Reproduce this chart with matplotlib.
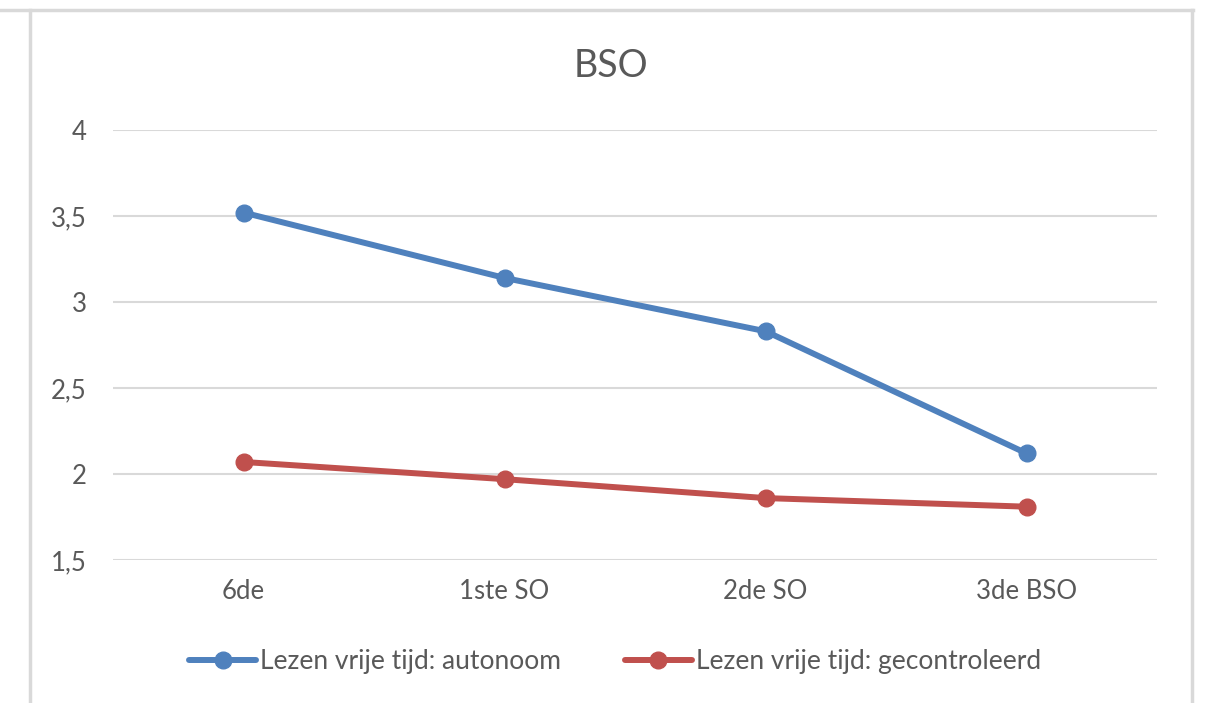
import matplotlib.pyplot as plt
from matplotlib.lines import Line2D
from matplotlib.ticker import FuncFormatter

categories = ["6de", "1ste SO", "2de SO", "3de BSO"]
autonoom = [3.52, 3.14, 2.83, 2.12]
gecontroleerd = [2.07, 1.97, 1.86, 1.81]
series_names = ["Lezen vrije tijd: autonoom", "Lezen vrije tijd: gecontroleerd"]
y_ticks = [1.5, 2, 2.5, 3, 3.5, 4]

plt.rcParams['font.family'] = ['Lato', 'DejaVu Sans']

W, H = 1207, 703
fig = plt.figure(figsize=(W / 100, H / 100), dpi=100)
ax = fig.add_axes([113 / W, 1 - 560 / H, 1044 / W, 430 / H])

x = range(len(categories))
ax.plot(x, autonoom, color="#4f81bd", lw=4.3, marker="o", ms=12,
        solid_capstyle="round", label=series_names[0], zorder=3)
ax.plot(x, gecontroleerd, color="#c0504d", lw=4.3, marker="o", ms=12,
        solid_capstyle="round", label=series_names[1], zorder=3)

ax.set_xlim(-0.5, len(categories) - 0.5)
ax.set_ylim(1.5, 4)
ax.set_yticks(y_ticks)
ax.yaxis.set_major_formatter(FuncFormatter(lambda v, p: f"{v:g}".replace(".", ",")))
ax.set_xticks(list(x))
ax.set_xticklabels(categories)
ax.grid(axis="y", color="#d9d9d9", lw=1.5)
ax.set_axisbelow(True)
for s in ax.spines.values():
    s.set_visible(False)
ax.tick_params(length=0, labelsize=18.5, colors="#595959", pad=14)
ax.tick_params(axis="y", pad=19)

fig.text(611 / W, 1 - 66 / H, "BSO", ha="center", va="center",
         fontsize=27, color="#595959")

leg = fig.legend(loc="center", bbox_to_anchor=(615 / W, 1 - 662 / H), ncol=2,
                 frameon=False, fontsize=19, handlelength=2.55, handletextpad=0.15,
                 columnspacing=2.4, labelcolor="#595959")

# outer chart border (light gray)
border = "#d9d9d9"
fig.add_artist(Line2D([0, 1193 / W], [1 - 10 / H, 1 - 10 / H], color=border, lw=2.5))
fig.add_artist(Line2D([29.5 / W, 29.5 / W], [0, 1 - 10 / H], color=border, lw=2.5))
fig.add_artist(Line2D([1192 / W, 1192 / W], [0, 1 - 10 / H], color=border, lw=2.5))

fig.savefig("out.png", dpi=100)
